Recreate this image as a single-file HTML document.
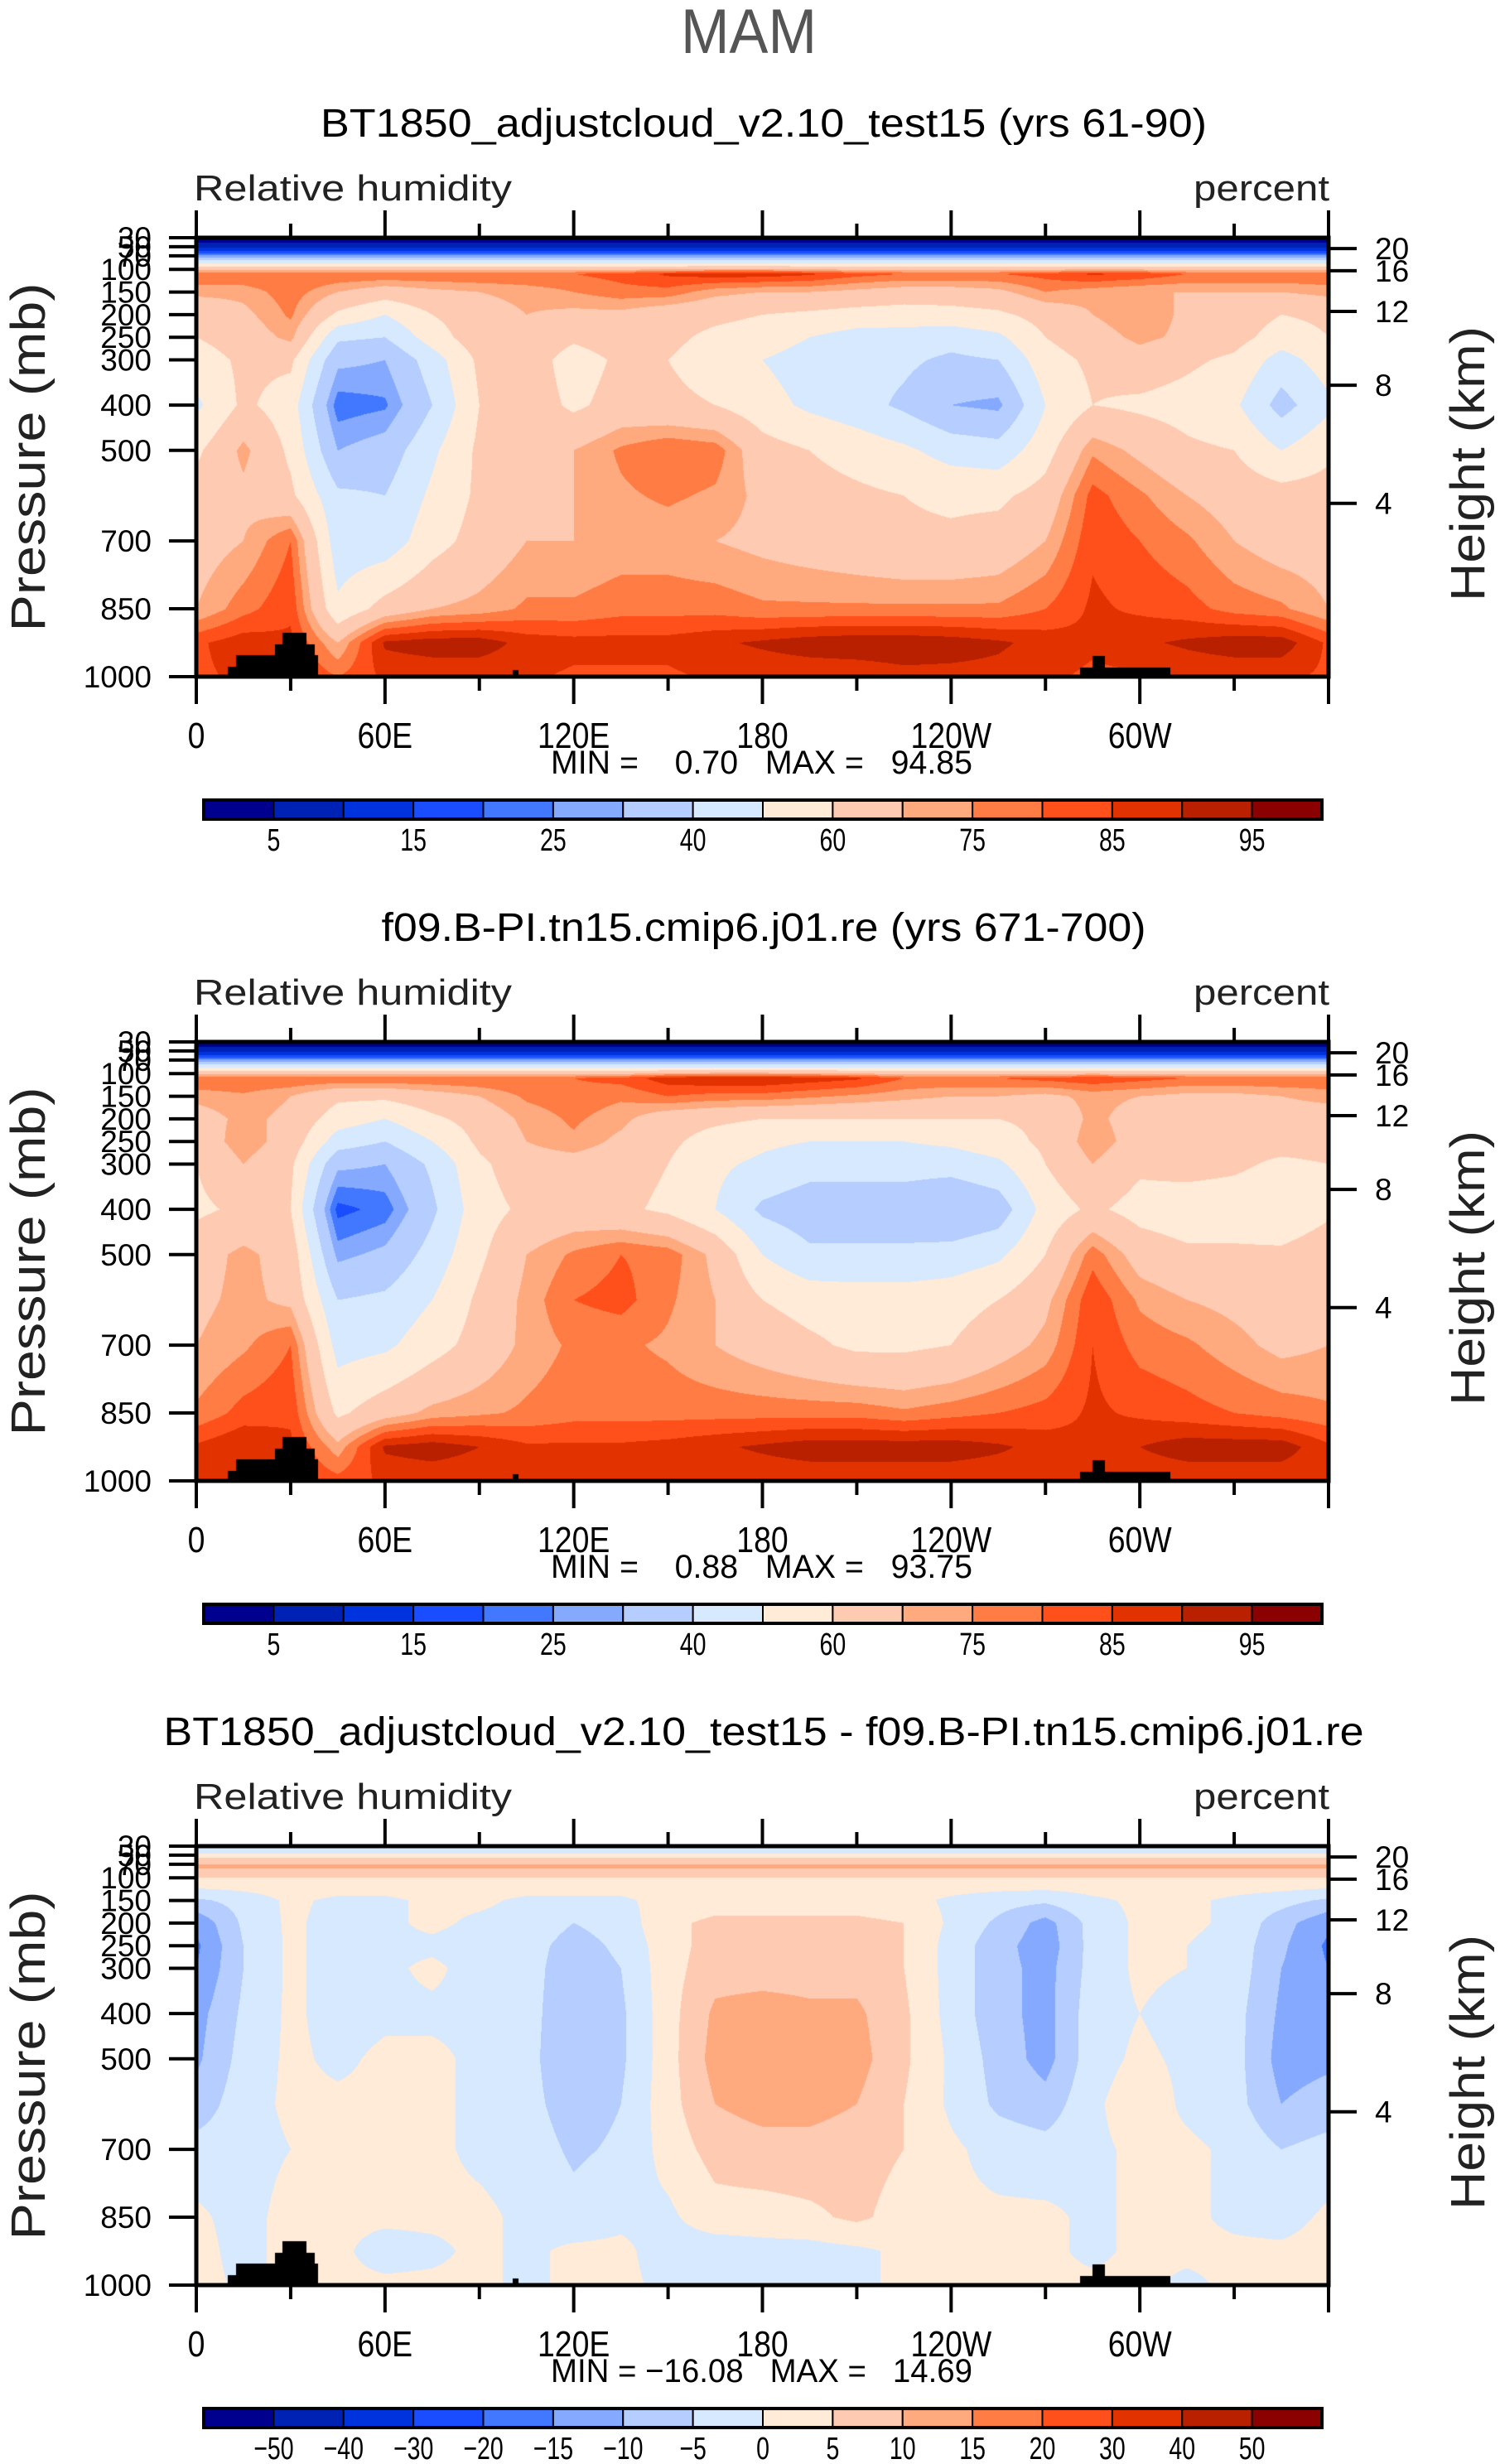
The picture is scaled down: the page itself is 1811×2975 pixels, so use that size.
<!DOCTYPE html>
<html><head><meta charset="utf-8">
<style>
html,body{margin:0;padding:0;background:#fff;}
#wrap{position:relative;width:1811px;height:2975px;overflow:hidden;background:#fff;}
canvas{position:absolute;}
svg{position:absolute;left:0;top:0;}
text{font-family:"Liberation Sans",sans-serif;fill:#000;white-space:pre;}
</style></head>
<body>
<div id="wrap">
<canvas id="c0" width="1367" height="530" style="left:237px;top:287px"></canvas>
<canvas id="c1" width="1367" height="530" style="left:237px;top:1258px"></canvas>
<canvas id="c2" width="1367" height="530" style="left:237px;top:2229px"></canvas>
<svg id="svg" width="1811" height="2975"></svg>
</div>
<script>
// ---------------- data ----------------
const lons = [0,15,30,45,60,75,90,105,120,135,150,165,180,195,210,225,240,255,270,285,300,315,330,345,360];
const pres = [30,45,60,75,90,110,150,200,250,300,400,500,600,700,850,925,1000];
const c25 = v => Array(25).fill(v);
const rh1 = [
 c25(2), c25(6), c25(15), c25(32), c25(55),
 [80,80,80,80,80,80,80,80,80,82,86,88,88,86,82,80,80,80,82,86,84,80,80,80,80],
 [72,72,78,70,65,68,70,72,75,78,78,72,70,70,68,66,66,68,75,72,70,70,70,70,72],
 [62,68,76,58,50,60,66,70,68,68,64,62,60,58,56,55,56,58,64,70,75,68,66,60,62],
 [60,65,72,42,40,55,66,68,62,66,62,58,56,50,46,46,44,48,60,66,72,68,64,55,60],
 [55,62,62,32,30,45,62,66,55,62,60,56,50,45,44,42,38,40,56,62,66,62,58,46,55],
 [48,62,55,22,24,40,60,66,58,64,62,60,54,48,44,38,30,28,50,60,58,56,52,36,48],
 [58,72,58,30,34,48,62,68,70,76,80,78,64,60,56,52,46,44,56,74,68,62,60,50,58],
 [64,68,62,42,40,52,62,68,70,74,76,74,68,64,62,60,58,58,64,82,76,70,66,64,64],
 [66,70,80,44,44,56,64,70,70,72,72,70,68,66,64,62,62,64,70,84,80,76,70,66,66],
 [70,78,84,52,64,70,72,76,76,78,78,78,76,76,76,76,76,76,80,86,84,82,78,76,70],
 [84,88,86,70,91,93,93,88,87,87,87,89,91,93,94,94,93,91,88,86,89,91,93,93,84],
 [84,86,86,80,86,86,86,86,84,84,84,86,86,86,86,88,88,88,86,84,84,86,86,86,84]
];
const rh2 = [
 c25(2), c25(6), c25(15), c25(32), c25(55),
 [80,80,80,80,80,80,80,80,80,82,88,90,90,88,86,80,80,80,82,84,82,80,80,80,80],
 [72,74,70,62,62,66,70,76,78,76,80,78,78,76,74,72,70,70,68,72,70,68,68,70,72],
 [66,72,68,55,50,58,64,72,76,72,64,62,60,60,60,60,60,60,62,72,66,66,66,66,66],
 [64,74,66,45,40,50,62,70,74,68,62,56,52,50,50,50,52,56,62,74,66,68,64,64,64],
 [60,70,62,32,30,42,58,66,66,64,60,52,48,44,44,44,44,48,60,70,62,64,62,58,60],
 [58,62,60,18,22,38,56,62,64,62,58,50,38,34,34,34,30,34,54,62,56,54,54,52,58],
 [66,72,66,28,32,44,58,70,76,80,78,68,50,42,42,42,44,48,60,78,66,62,62,62,66],
 [68,72,68,40,42,50,62,72,80,82,76,70,60,56,55,55,56,60,68,84,74,70,68,66,68],
 [70,74,80,46,48,56,64,72,76,76,74,70,66,62,58,58,60,66,72,85,78,76,72,68,70],
 [76,82,84,58,66,72,74,76,78,78,78,78,78,78,78,76,78,80,82,86,84,82,80,78,76],
 [86,90,86,72,91,93,90,86,86,86,87,89,91,93,93,93,93,91,88,86,90,93,93,93,86],
 [86,86,86,82,86,86,86,86,86,86,86,86,86,86,86,86,86,86,86,86,86,86,86,86,86]
];
const diff = [
 c25(-2), c25(-1), c25(8), c25(11), c25(7), c25(3),
 [-6,-3,1,-1,-1,1,1,-1,-1,-1,2,3,3,3,3,2,-1,-3,-4,-1,1,1,-1,-3,-6],
 [-14,-4,1,-2,-1,1,-1,-2,-5,-3,4,6,6,6,6,5,-1,-6,-12,-3,1,1,-1,-8,-14],
 [-16,-5,1,-2,-1,-1,-2,-3,-7,-4,3,7,7,7,7,5,-2,-8,-13,-3,1,0,-2,-9,-16],
 [-15,-5,1,-2,-1,1,-2,-3,-8,-5,3,8,8,8,8,5,-2,-8,-12,-3,1,0,-2,-10,-15],
 [-12,-4,1,-2,-1,-1,-1,-3,-9,-6,3,11,12,11,11,6,-2,-8,-12,-2,0,-2,-3,-11,-12],
 [-11,-3,1,-1,1,1,-1,-3,-10,-6,3,12,13,13,12,6,-1,-7,-12,-2,1,-1,-3,-12,-11],
 [-8,-2,1,1,1,1,-1,-3,-8,-5,3,10,12,12,10,5,-1,-6,-8,-1,3,-1,-3,-10,-8],
 [-3,-2,0,1,1,1,-1,-2,-6,-4,2,7,8,8,7,5,1,-2,-3,-1,1,1,-1,-5,-3],
 [1,-2,2,1,1,1,1,-1,-3,-1,-1,3,3,4,6,3,1,1,1,-1,1,1,-1,-2,1],
 [2,-2,2,1,-2,-1,1,-1,1,1,-2,-3,-2,-2,-1,1,1,1,1,-1,1,1,1,1,2],
 [2,-1,1,1,1,1,1,-1,1,1,-1,-1,-1,-1,-1,1,1,1,1,1,1,-1,1,1,2]
];
// topography: [lonStart, lonEnd, surface-top pressure]
const topoLon0 = [9.9,12.6,25,27.5,35,37.7,100.5,281,285];
const topoLon1 = [12.6,25,27.5,35,37.7,38.6,102.5,309.6,289];
const topoP    = [978,953,929,903,929,953,985,979,954];
const rhLevels = [5,10,15,20,25,30,40,50,60,70,75,80,85,90,95];
const rhLabels = ["5","15","25","40","60","75","85","95"];
const dLevels = [-50,-40,-30,-20,-15,-10,-5,0,5,10,15,20,30,40,50];
const dLabels = ["\u221250","\u221240","\u221230","\u221220","\u221215","\u221210","\u22125","0","5","10","15","20","30","40","50"];
const colors = ["#00008f","#0022b4","#0033de","#1a4dff","#4278ff","#84a9ff","#b5cdff","#d6e9ff","#ffebd8","#ffcab2","#ffa97f","#ff7c44","#ff4f1a","#e23200","#b82000","#8b0000"];
const xTickLons = [0,60,120,180,240,300];
const xTickLabels = ["0","60E","120E","180","120W","60W"];
const yTickP = [30,50,70,100,150,200,250,300,400,500,700,850,1000];
const hgtP = [54,103,193,356,617];
const hgtLabels = ["20","16","12","8","4"];
const titles = ["BT1850_adjustcloud_v2.10_test15 (yrs 61-90)","f09.B-PI.tn15.cmip6.j01.re (yrs 671-700)","BT1850_adjustcloud_v2.10_test15 - f09.B-PI.tn15.cmip6.j01.re"];
const titleW = [1070,923,1449];
const minmax = ["MIN =    0.70   MAX =   94.85","MIN =    0.88   MAX =   93.75","MIN = \u221216.08   MAX =   14.69"];

// ---------------- geometry ----------------
const X0=237, W=1367, H=530, OFF=971, TOP0=287;
const xs = lon => X0 + lon/360*W;
const ys = (p,top) => top + (p-30)/970*H;
function rgb(h){return [parseInt(h.substr(1,2),16),parseInt(h.substr(3,2),16),parseInt(h.substr(5,2),16)];}
const crgb = colors.map(rgb);

function sample(field, lon, p){
  let i=Math.min(23,Math.floor(lon/15)); let fx=(lon-lons[i])/15;
  let j=0; while(j<pres.length-2 && p>pres[j+1]) j++;
  let fy=(p-pres[j])/(pres[j+1]-pres[j]); fy=Math.max(0,Math.min(1,fy));
  const a=field[j][i],b=field[j][i+1],c=field[j+1][i],d=field[j+1][i+1];
  return (a*(1-fx)+b*fx)*(1-fy)+(c*(1-fx)+d*fx)*fy;
}
function drawField(id, field, levels){
  const cv=document.getElementById(id), ctx=cv.getContext('2d');
  const img=ctx.createImageData(W,H);
  for(let py=0;py<H;py++){
    const p=30+(py+0.5)/H*970;
    for(let px=0;px<W;px++){
      const lon=(px+0.5)/W*360;
      const v=sample(field,lon,p);
      let k=0; while(k<levels.length && v>=levels[k]) k++;
      let c=crgb[k];
      for(let t=0;t<topoP.length;t++){ if(lon>=topoLon0[t]&&lon<topoLon1[t]&&p>=topoP[t]){c=[0,0,0];break;} }
      const o=(py*W+px)*4; img.data[o]=c[0];img.data[o+1]=c[1];img.data[o+2]=c[2];img.data[o+3]=255;
    }
  }
  ctx.putImageData(img,0,0);
}
drawField('c0',rh1,rhLevels);
drawField('c1',rh2,rhLevels);
drawField('c2',diff,dLevels);

// ---------------- annotations ----------------
const NS="http://www.w3.org/2000/svg", svg=document.getElementById('svg');
function el(tag,attrs,parent){const e=document.createElementNS(NS,tag);for(const k in attrs)e.setAttribute(k,attrs[k]);(parent||svg).appendChild(e);return e;}
function txt(s,x,y,size,anchor,parent,sx){
  const t=el('text',{x:0,y:0,'font-size':size,'text-anchor':anchor||'start',transform:`translate(${x},${y}) scale(${sx||1},1)`},parent);
  t.textContent=s; return t;
}
let t=el('text',{x:904,y:64,'font-size':76,'text-anchor':'middle',textLength:164,lengthAdjust:'spacingAndGlyphs',style:'fill:#555'});
t.textContent="MAM";



for(let k=0;k<3;k++){
  const top=TOP0+k*OFF, bot=top+H, g=el('g',{});
  
  
  let tt=el('text',{x:922,y:165+k*OFF,'font-size':48,'text-anchor':'middle',textLength:titleW[k],lengthAdjust:'spacingAndGlyphs'},g);
  tt.textContent=titles[k];
  
  
  let l=el('text',{x:234,y:242+k*OFF,'font-size':44,textLength:384,lengthAdjust:'spacingAndGlyphs',style:'fill:#222'},g); l.textContent="Relative humidity";
  
  
  let u=el('text',{x:1605,y:242+k*OFF,'font-size':44,'text-anchor':'end',textLength:164,lengthAdjust:'spacingAndGlyphs',style:'fill:#222'},g); u.textContent="percent";
  
  
  let fr=el('rect',{x:X0,y:top,width:W,height:H,fill:'none',stroke:'#000','stroke-width':5},g);
  
  
  for(let lon=0;lon<=360;lon+=30){
    const major=lon%60===0, x=xs(lon), len=major?33:17;
    el('line',{x1:x,y1:bot,x2:x,y2:bot+len,stroke:'#000','stroke-width':4},g);
    el('line',{x1:x,y1:top,x2:x,y2:top-len,stroke:'#000','stroke-width':4},g);
  }
  xTickLons.forEach((lon,i)=>{const a=txt(xTickLabels[i],xs(lon),903+k*OFF,44,'middle',g,0.85);
    
    });
  yTickP.forEach(p=>{const y=ys(p,top);el('line',{x1:X0-33,y1:y,x2:X0,y2:y,stroke:'#000','stroke-width':4},g);
    const a=txt(String(p),183,y+13,37,'end',g,1);
    
    });
  hgtP.forEach((p,i)=>{const y=ys(p,top);el('line',{x1:X0+W,y1:y,x2:X0+W+34,y2:y,stroke:'#000','stroke-width':4},g);
    const a=txt(hgtLabels[i],1660,y+13,37,'start',g,1);
    
    });
  let yl=el('text',{x:0,y:0,'font-size':58,'text-anchor':'middle',textLength:421,lengthAdjust:'spacingAndGlyphs',transform:`translate(54,${top+265}) rotate(-90)`,style:'fill:#222'},g);
  yl.textContent="Pressure (mb)";
  
  
  let yr=el('text',{x:0,y:0,'font-size':58,'text-anchor':'middle',textLength:332,lengthAdjust:'spacingAndGlyphs',transform:`translate(1792,${top+273}) rotate(-90)`,style:'fill:#222'},g);
  yr.textContent="Height (km)";
  
  
  let mm=el('text',{x:665,y:934+k*OFF,'font-size':40,textLength:509,lengthAdjust:'spacingAndGlyphs'},g);
  mm.textContent=minmax[k];
  
  
  const cbx=246,cbw=1350,cby=966+k*OFF,cbh=23,bw=cbw/16;
  const cb=el('g',{},g);
  
  
  colors.forEach((c,i)=>{const r=el('rect',{x:cbx+i*bw,y:cby,width:bw,height:cbh,fill:c,stroke:'#000','stroke-width':2},cb);
    
    });
  el('rect',{x:cbx,y:cby,width:cbw,height:cbh,fill:'none',stroke:'#000','stroke-width':4},cb);
  if(k<2){ rhLabels.forEach((s,i)=>{const a=txt(s,cbx+(2*i+1)*bw,1027+k*OFF,38,'middle',cb,0.75);
      
      }); }
  else { dLabels.forEach((s,i)=>{const a=txt(s,cbx+(i+1)*bw,1027+k*OFF,38,'middle',cb,0.75);
      
      }); }
}
</script>
</body></html>
